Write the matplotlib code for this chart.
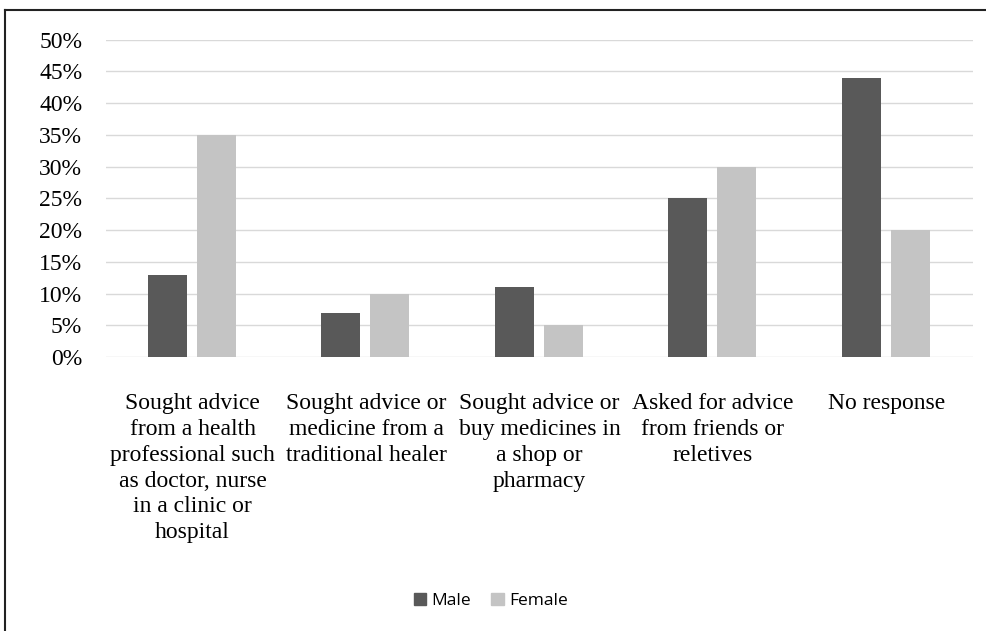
import os

import matplotlib

matplotlib.use("Agg")
import matplotlib.pyplot as plt
from matplotlib import font_manager
from matplotlib.lines import Line2D
from matplotlib.patches import Patch
import numpy as np

categories = [
    "Sought advice\nfrom a health\nprofessional such\nas doctor, nurse\nin a clinic or\nhospital",
    "Sought advice or\nmedicine from a\ntraditional healer",
    "Sought advice or\nbuy medicines in\na shop or\npharmacy",
    "Asked for advice\nfrom friends or\nreletives",
    "No response",
]
male = [13, 7, 11, 25, 44]
female = [35, 10, 5, 30, 20]
yticks = [0, 5, 10, 15, 20, 25, 30, 35, 40, 45, 50]

# Times-like face: Liberation Serif if present, else STIX shipped with matplotlib
serif_file = None
for f in font_manager.fontManager.ttflist:
    if f.name == "Liberation Serif" and f.style == "normal" and f.weight in (400, "normal"):
        serif_file = f.fname
        break
if serif_file is None:
    cand = os.path.join(matplotlib.get_data_path(), "fonts", "ttf", "STIXGeneral.ttf")
    if os.path.isfile(cand):
        serif_file = cand
if serif_file:
    font_manager.fontManager.addfont(serif_file)
    serif_name = font_manager.FontProperties(fname=serif_file).get_name()
    plt.rcParams["font.family"] = [serif_name, "DejaVu Sans"]
    tick_font = font_manager.FontProperties(fname=serif_file, size=17)
else:
    tick_font = font_manager.FontProperties(family="serif", size=17)

fig = plt.figure(figsize=(9.87, 6.31), dpi=100)
ax = fig.add_axes([0.1073, 0.434, 0.8784, 0.503])

x = np.arange(len(categories))
w = 0.225
ax.bar(x - 0.145, male, w, color="#595959", zorder=3, label="Male")
ax.bar(x + 0.138, female, w, color="#c4c4c4", zorder=3, label="Female")

ax.set_xlim(-0.5, len(categories) - 0.5)
ax.set_ylim(0, 50)
ax.set_yticks(yticks)
ax.set_yticklabels([f"{v}%" for v in yticks], fontproperties=tick_font)
ax.set_xticks(x)
ax.set_xticklabels(categories, fontproperties=tick_font, linespacing=1.3, va="top")
ax.tick_params(axis="both", length=0)
ax.tick_params(axis="x", pad=26)
ax.tick_params(axis="y", pad=17)
ax.grid(axis="y", color="#d9d9d9", lw=1, zorder=0)
for s in ax.spines.values():
    s.set_visible(False)

handles = [Patch(color="#595959"), Patch(color="#c4c4c4")]
fig.legend(handles, ["Male", "Female"], loc="center", bbox_to_anchor=(0.497, 0.048),
           ncol=2, frameon=False, handlelength=0.7, handleheight=0.7,
           handletextpad=0.3, columnspacing=1.2,
           prop={"family": ["Open Sans", "DejaVu Sans"], "size": 12.5})

# outer frame (left and top edges)
fig.add_artist(Line2D([0.005, 0.005], [0.0, 0.984], color="#222222", lw=1.5,
                      transform=fig.transFigure))
fig.add_artist(Line2D([0.005, 1.0], [0.984, 0.984], color="#222222", lw=1.5,
                      transform=fig.transFigure))

fig.savefig("out.png", dpi=100)
